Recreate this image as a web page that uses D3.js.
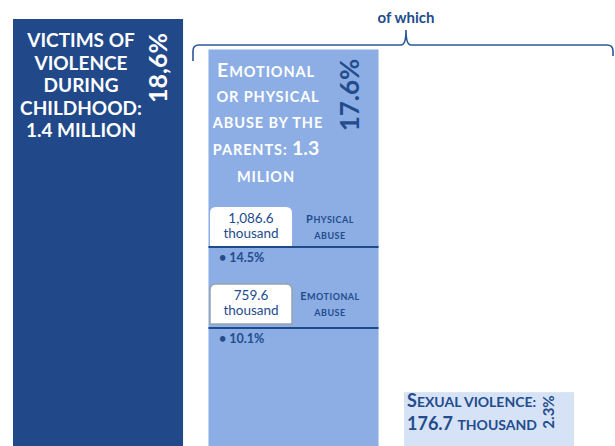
<!DOCTYPE html>
<html>
<head>
<meta charset="utf-8">
<script src="https://cdn.jsdelivr.net/npm/d3@7/dist/d3.min.js"></script>
<style>
  html, body { margin: 0; padding: 0; background: #fff; }
  svg { display: block; font-family: Lato, "Open Sans", sans-serif; }
</style>
</head>
<body>
<svg id="chart" width="615" height="446"></svg>
<script>
// ---- data ----
const categories = ["Victims of violence during childhood", "Emotional or physical abuse by the parents", "Sexual violence"];
const valuesThousand = [1400, 1300, 176.7];
const shareLabels = ["18,6%", "17.6%", "2.3%"];
const subCategories = ["Physical abuse", "Emotional abuse"];
const subValuesThousand = [1086.6, 759.6];
const subShares = [14.5, 10.1];

const colors = ["#21498A", "#8CAEE4", "#D6E2F6"];
const dark = "#234C8D";

const svg = d3.select("#chart");
const W = 615, H = 446;

const x = d3.scaleBand().domain(categories).range([13, 574]).paddingInner(0.13).paddingOuter(0);
const y = d3.scaleLinear().domain([0, 1400]).range([H, 19]);

// bars
svg.selectAll("rect.bar").data(categories).join("rect")
  .attr("class", "bar")
  .attr("x", d => x(d))
  .attr("y", (d, i) => y(valuesThousand[i]))
  .attr("width", x.bandwidth())
  .attr("height", (d, i) => H - y(valuesThousand[i]))
  .attr("fill", (d, i) => colors[i]);

// helper for small caps lines: parts = [[text, size, letterSpacing], ...]
function scText(g, xPos, yPos, parts, opts) {
  const t = g.append("text").attr("x", xPos).attr("y", yPos)
    .attr("text-anchor", opts.anchor || "middle")
    .attr("font-weight", opts.weight || 700)
    .attr("fill", opts.fill);
  parts.forEach(p => t.append("tspan").attr("font-size", p[1])
    .attr("letter-spacing", p[2] || 0).text(p[0]));
  return t;
}

// ---- bar 1 text ----
const b1 = svg.append("g");
const b1Lines = ["VICTIMS OF", "VIOLENCE", "DURING", "CHILDHOOD:", "1.4 MILLION"];
b1Lines.forEach((l, i) => {
  b1.append("text").attr("x", 81).attr("y", 47 + i * 22.6)
    .attr("text-anchor", "middle").attr("font-weight", 700)
    .attr("font-size", 19).attr("fill", "#fff").text(l);
});
b1.append("text")
  .attr("transform", "translate(167,68) rotate(-90)")
  .attr("text-anchor", "middle").attr("font-weight", 700)
  .attr("font-size", 25).attr("fill", "#fff").text(shareLabels[0]);

// ---- bar 2 text ----
const b2 = svg.append("g");
const big = 19.5, sm = 14.5, ls = 0.9;
scText(b2, 266, 77, [["E", big, ls], ["MOTIONAL", sm, ls]], {fill: "#fff"});
scText(b2, 268, 102, [["OR PHYSICAL", sm, ls]], {fill: "#fff"});
scText(b2, 268, 128, [["ABUSE BY THE", sm, ls]], {fill: "#fff"});
scText(b2, 266, 155, [["PARENTS: ", sm, ls], ["1.3", big]], {fill: "#fff"});
scText(b2, 266, 182, [["MILION", sm, ls]], {fill: "#fff"});
b2.append("text")
  .attr("transform", "translate(359,95) rotate(-90)")
  .attr("text-anchor", "middle").attr("font-weight", 700)
  .attr("font-size", 26).attr("fill", dark).text(shareLabels[1]);

// sub-boxes
const bx0 = x(categories[1]);
const boxTops = [207, 284];
const lineYs = [247, 328];
const fmt = d3.format(",.1f");
subCategories.forEach((c, i) => {
  const top = boxTops[i], ly = lineYs[i];
  const bw = 82, bl = 210, r = 6;
  const h = ly - top - (i === 1 ? 4 : 0);
  const path = `M${bl},${top + h} V${top + r} Q${bl},${top} ${bl + r},${top} H${bl + bw - r} Q${bl + bw},${top} ${bl + bw},${top + r} V${top + h}` + (i === 1 ? ` H${bl} Z` : " Z");
  b2.append("path").attr("d", path).attr("fill", "#fff")
    .attr("stroke", i === 1 ? "#9aa3ad" : "none").attr("stroke-width", 1.5);
  b2.append("text").attr("x", 251).attr("y", top + 16).attr("text-anchor", "middle")
    .attr("font-size", 13.5).attr("fill", dark).text(fmt(subValuesThousand[i]));
  b2.append("text").attr("x", 251).attr("y", top + 31).attr("text-anchor", "middle")
    .attr("font-size", 13.5).attr("fill", dark).text("thousand");
  const words = c.toUpperCase().split(" ");
  scText(b2, 330, top + 16, [[words[0][0], 11, 0.5], [words[0].slice(1), 9, 0.5]], {fill: dark});
  scText(b2, 330, top + 32, [[words[1], 9, 0.5]], {fill: dark});
  b2.append("line").attr("x1", bx0).attr("x2", bx0 + x.bandwidth())
    .attr("y1", ly).attr("y2", ly).attr("stroke", "#1F4A8A").attr("stroke-width", 2);
  b2.append("text").attr("x", 219).attr("y", ly + 15)
    .attr("font-size", 12.5).attr("font-weight", 700).attr("fill", dark)
    .text("\u2022 " + subShares[i].toFixed(1) + "%");
});

// ---- bar 3 text ----
const b3 = svg.append("g");
scText(b3, 407, 407, [["S", 18], ["EXUAL VIOLENCE:", 14]], {fill: dark, anchor: "start"});
scText(b3, 407, 430, [["176.7 ", 18], ["THOUSAND", 14]], {fill: dark, anchor: "start"});
b3.append("text")
  .attr("transform", "translate(554,412) rotate(-90)")
  .attr("text-anchor", "middle").attr("font-weight", 700)
  .attr("font-size", 15).attr("fill", dark).text(shareLabels[2]);

// ---- brace "of which" ----
const L = 193, R = 613, M = 406, yl = 45;
svg.append("path")
  .attr("d", `M${L},${61} V${yl + 6} Q${L},${yl} ${L + 6},${yl} H${M - 5} Q${M},${yl} ${M},${30} Q${M},${yl} ${M + 5},${yl} H${R - 6} Q${R},${yl} ${R},${yl + 6} V${56}`)
  .attr("fill", "none").attr("stroke", "#2A579A").attr("stroke-width", 1.6);
svg.append("text").attr("x", 406).attr("y", 23).attr("text-anchor", "middle")
  .attr("font-size", 15).attr("font-weight", 700).attr("fill", dark).text("of which");
</script>
</body>
</html>
